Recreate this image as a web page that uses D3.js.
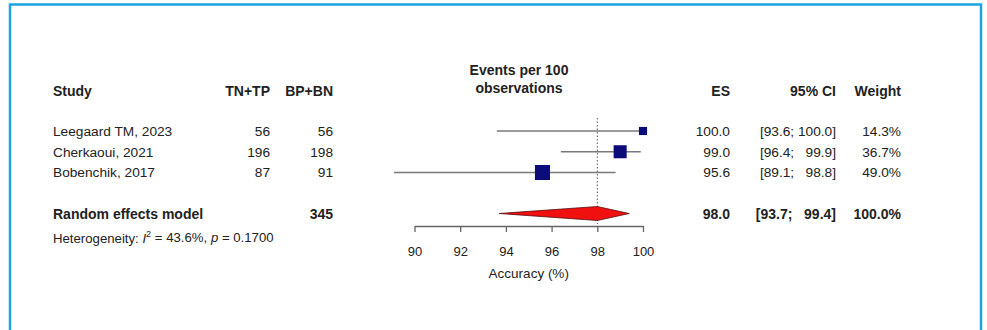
<!DOCTYPE html>
<html><head><meta charset="utf-8">
<script src="https://cdn.jsdelivr.net/npm/d3@7/dist/d3.min.js"></script>
<style>
html,body{margin:0;padding:0;background:#fff;}
svg{display:block;font-family:"Liberation Sans",Arial,sans-serif;}
</style></head>
<body><svg id="c" width="987" height="330"></svg>
<script>
const studies = ["Leegaard TM, 2023", "Cherkaoui, 2021", "Bobenchik, 2017"];
const tnTp = [56, 196, 87];
const bpBn = [56, 198, 91];
const es = [100.0, 99.0, 95.6];
const ciLo = [93.6, 96.4, 89.1];
const ciHi = [100.0, 99.9, 98.8];
const weights = [14.3, 36.7, 49.0];
const summaryLabel = "Random effects model";
const summaryTotal = 345;
const summaryEs = 98.0, summaryLo = 93.7, summaryHi = 99.4, summaryWeight = 100.0;
const hetI2 = 43.6, hetP = "0.1700";
const xTicks = [90, 92, 94, 96, 98, 100];
const xLabel = "Accuracy (%)";

const svg = d3.select("#c");
const fmt1 = d3.format(".1f");
const txt = "#222";

// border
svg.append("rect").attr("x", 10).attr("y", 4.5).attr("width", 971).attr("height", 400)
  .attr("fill", "none").attr("stroke", "#1ba4e1").attr("stroke-width", 2.5);

const x = d3.scaleLinear().domain([90, 100]).range([414.5, 643]);
const y = d3.scalePoint().domain(d3.range(studies.length)).range([131, 172.5]);
const ySum = 213.5;
const yHead = 91;
const sz = d3.scaleSqrt().domain([0, 100]).range([0, 21.5]);

// headers
const head = svg.append("g").attr("font-weight", "bold").attr("font-size", 14).attr("fill", txt);
head.append("text").attr("x", 53).attr("y", yHead).attr("dy", "0.35em").text("Study");
head.append("text").attr("x", 270).attr("y", yHead).attr("dy", "0.35em").attr("text-anchor", "end").text("TN+TP");
head.append("text").attr("x", 333).attr("y", yHead).attr("dy", "0.35em").attr("text-anchor", "end").text("BP+BN");
head.append("text").attr("x", 519).attr("y", 70).attr("dy", "0.35em").attr("text-anchor", "middle").text("Events per 100");
head.append("text").attr("x", 519).attr("y", 88).attr("dy", "0.35em").attr("text-anchor", "middle").text("observations");
head.append("text").attr("x", 730).attr("y", yHead).attr("dy", "0.35em").attr("text-anchor", "end").text("ES");
head.append("text").attr("x", 836).attr("y", yHead).attr("dy", "0.35em").attr("text-anchor", "end").text("95% CI");
head.append("text").attr("x", 901).attr("y", yHead).attr("dy", "0.35em").attr("text-anchor", "end").text("Weight");

// study rows
const rows = svg.append("g").attr("font-size", 13.7).attr("fill", txt);
studies.forEach((s, i) => {
  const yy = y(i);
  rows.append("text").attr("x", 53).attr("y", yy).attr("dy", "0.35em").text(s);
  rows.append("text").attr("x", 270).attr("y", yy).attr("dy", "0.35em").attr("text-anchor", "end").text(tnTp[i]);
  rows.append("text").attr("x", 333).attr("y", yy).attr("dy", "0.35em").attr("text-anchor", "end").text(bpBn[i]);
  rows.append("text").attr("x", 730).attr("y", yy).attr("dy", "0.35em").attr("text-anchor", "end").text(fmt1(es[i]));
  const lo = fmt1(ciLo[i]), hi = fmt1(ciHi[i]);
  rows.append("text").attr("x", 836).attr("y", yy).attr("dy", "0.35em").attr("text-anchor", "end")
    .style("white-space", "pre")
    .text("[" + lo + "; " + (hi.length < 5 ? "\u2007" : "") + hi + "]");
  rows.append("text").attr("x", 901).attr("y", yy).attr("dy", "0.35em").attr("text-anchor", "end").text(fmt1(weights[i]) + "%");
});

// summary row
const sumG = svg.append("g").attr("font-size", 14).attr("font-weight", "bold").attr("fill", txt);
sumG.append("text").attr("x", 53).attr("y", ySum + 1).attr("dy", "0.35em").text(summaryLabel);
sumG.append("text").attr("x", 333).attr("y", ySum + 1).attr("dy", "0.35em").attr("text-anchor", "end").text(summaryTotal);
sumG.append("text").attr("x", 730).attr("y", ySum + 1).attr("dy", "0.35em").attr("text-anchor", "end").text(fmt1(summaryEs));
sumG.append("text").attr("x", 836).attr("y", ySum + 1).attr("dy", "0.35em").attr("text-anchor", "end").style("white-space", "pre")
  .text("[" + fmt1(summaryLo) + "; \u2007" + fmt1(summaryHi) + "]");
sumG.append("text").attr("x", 901).attr("y", ySum + 1).attr("dy", "0.35em").attr("text-anchor", "end").text(fmt1(summaryWeight) + "%");

// heterogeneity
const het = svg.append("text").attr("x", 53).attr("y", 238).attr("dy", "0.35em").attr("font-size", 13.2).attr("fill", txt);
het.append("tspan").text("Heterogeneity: ");
het.append("tspan").attr("font-style", "italic").text("I");
het.append("tspan").attr("font-size", 9).attr("dy", "-0.6em").text("2");
het.append("tspan").attr("dy", "0.35em").text(" = " + hetI2 + "%, ");
het.append("tspan").attr("font-style", "italic").text("p");
het.append("tspan").text(" = " + hetP);

// reference dotted line
svg.append("line").attr("x1", x(summaryEs)).attr("x2", x(summaryEs)).attr("y1", 118).attr("y2", 224)
  .attr("stroke", "#555").attr("stroke-width", 1).attr("stroke-dasharray", "1.5,2");

// CI lines and squares
const plot = svg.append("g");
studies.forEach((s, i) => {
  plot.append("line").attr("x1", x(ciLo[i])).attr("x2", x(ciHi[i])).attr("y1", y(i)).attr("y2", y(i))
    .attr("stroke", "#7a7a7a").attr("stroke-width", 1.6);
  const w = sz(weights[i]);
  plot.append("rect").attr("x", x(es[i]) - w / 2).attr("y", y(i) - w / 2).attr("width", w).attr("height", w)
    .attr("fill", "#0b0b7a");
});

// diamond
const dh = 7;
plot.append("path")
  .attr("d", d3.line()([[x(summaryLo), ySum], [x(summaryEs), ySum - dh], [x(summaryHi), ySum], [x(summaryEs), ySum + dh]]) + "Z")
  .attr("fill", "#f01010").attr("stroke", "#5a1010").attr("stroke-width", 0.8);

// axis
const axG = svg.append("g").attr("transform", "translate(0,226)");
const axis = d3.axisBottom(x).tickValues(xTicks).tickSize(6).tickPadding(15).tickSizeOuter(0).tickFormat(d3.format("d"));
axG.call(axis);
axG.select(".domain").attr("stroke", "#666").attr("stroke-width", 1.3);
axG.selectAll(".tick line").attr("stroke", "#666").attr("stroke-width", 1.3);
axG.selectAll(".tick text").attr("font-size", 13).attr("fill", txt).attr("font-family", "Liberation Sans, Arial, sans-serif");
svg.append("text").attr("x", x(95)).attr("y", 273).attr("dy", "0.35em").attr("text-anchor", "middle")
  .attr("font-size", 13.5).attr("fill", txt).text(xLabel);
</script></body></html>
